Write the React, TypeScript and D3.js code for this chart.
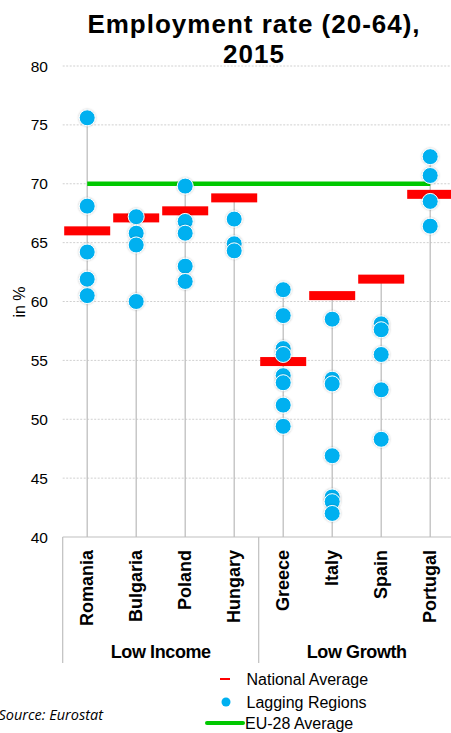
import React from "react";
import * as d3 from "d3";

const countries = ["Romania", "Bulgaria", "Poland", "Hungary", "Greece", "Italy", "Spain", "Portugal"];
const groups = ["Low Income", "Low Growth"];
const nationalAverage = [66.0, 67.1, 67.7, 68.8, 54.9, 60.5, 61.9, 69.1];
const laggingRegions: number[][] = [
  [75.6, 68.1, 64.2, 61.9, 60.5],
  [67.2, 65.8, 64.8, 60.0],
  [69.8, 66.8, 65.8, 63.0, 61.7],
  [67.0, 64.9, 64.3],
  [61.0, 58.8, 56.0, 55.5, 53.7, 53.1, 51.2, 49.4],
  [58.5, 53.4, 53.0, 46.9, 43.4, 43.0, 42.0],
  [58.1, 57.6, 55.5, 52.5, 48.3],
  [72.3, 70.7, 68.5, 66.4],
];
const eu28Average = 70.0;
const yTicks = [40, 45, 50, 55, 60, 65, 70, 75, 80];

const W = 451;
const H = 733;
const FONT = "'Liberation Sans', Arial, sans-serif";

export default function App() {
  const plotLeft = 62.7;
  const step = 49;
  const x = d3.scaleBand<string>().domain(countries).range([plotLeft, plotLeft + step * countries.length]).padding(0);
  const y = d3.scaleLinear().domain([40, 80]).range([537, 66]);
  const cx = (c: string) => (x(c) as number) + x.bandwidth() / 2;
  const groupScale = d3.scaleBand<string>().domain(groups).range([plotLeft, plotLeft + step * countries.length]);
  const axisBottom = 663;
  const barW = 46;
  const barH = 9;

  return (
    <svg width={W} height={H} style={{ position: "absolute", left: 0, top: 0, display: "block" }}>
      <defs>
        <filter id="sh" x="-50%" y="-50%" width="200%" height="200%">
          <feDropShadow dx="0" dy="0" stdDeviation="0.8" floodColor="#000" floodOpacity="0.25" />
        </filter>
      </defs>
      <rect width={W} height={H} fill="#fff" />
      {/* title */}
      <text x={254} y={32.5} textAnchor="middle" fontFamily={FONT} fontWeight="bold" fontSize={26} letterSpacing={1} fill="#000">
        Employment rate (20-64),
      </text>
      <text x={254} y={63} textAnchor="middle" fontFamily={FONT} fontWeight="bold" fontSize={26} letterSpacing={1} fill="#000">
        2015
      </text>
      {/* gridlines */}
      {yTicks.filter((t) => t > 40).map((t) => (
        <line key={t} x1={plotLeft} x2={W} y1={y(t)} y2={y(t)} stroke="#D0D0D0" strokeWidth={1} strokeDasharray="2,1.5" />
      ))}
      {/* y tick labels */}
      {yTicks.map((t) => (
        <text key={t} x={48} y={y(t) + 5.5} textAnchor="end" fontFamily={FONT} fontSize={15.5} fill="#000">
          {t}
        </text>
      ))}
      <text transform={`translate(25,302) rotate(-90)`} textAnchor="middle" fontFamily={FONT} fontSize={16} fill="#000">
        in %
      </text>
      {/* x axis */}
      <line x1={plotLeft} x2={W} y1={y(40)} y2={y(40)} stroke="#BFBFBF" strokeWidth={1.2} />
      {[0, 4].map((i) => (
        <line key={i} x1={plotLeft + i * step} x2={plotLeft + i * step} y1={y(40)} y2={axisBottom} stroke="#BFBFBF" strokeWidth={1.2} />
      ))}
      {/* vertical high-low lines */}
      {countries.map((c, i) => {
        const top = d3.max([...laggingRegions[i], nationalAverage[i]]) as number;
        return <line key={c} x1={cx(c)} x2={cx(c)} y1={y(top)} y2={y(40)} stroke="#BFBFBF" strokeWidth={1.3} />;
      })}
      {/* EU-28 line */}
      <line x1={cx(countries[0])} x2={cx(countries[countries.length - 1])} y1={y(eu28Average)} y2={y(eu28Average)} stroke="#00C800" strokeWidth={4.5} />
      {/* national averages */}
      {countries.map((c, i) => (
        <rect key={c} x={cx(c) - barW / 2} y={y(nationalAverage[i]) - barH / 2} width={barW} height={barH} fill="#FF0000" />
      ))}
      {/* lagging regions */}
      {countries.map((c, i) =>
        laggingRegions[i].map((v, j) => (
          <circle key={c + j} cx={cx(c)} cy={y(v)} r={8} fill="#00B0F0" stroke="#fff" strokeWidth={1} filter="url(#sh)" />
        ))
      )}
      {/* country labels */}
      {countries.map((c) => (
        <text key={c} transform={`translate(${cx(c) + 6},550) rotate(-90)`} textAnchor="end" fontFamily={FONT} fontWeight="bold" fontSize={18} fill="#000">
          {c}
        </text>
      ))}
      {groups.map((g) => (
        <text key={g} x={(groupScale(g) as number) + groupScale.bandwidth() / 2} y={658} textAnchor="middle" fontFamily={FONT} fontWeight="bold" fontSize={18} fill="#000" letterSpacing={-0.4}>
          {g}
        </text>
      ))}
      {/* legend */}
      <line x1={220} x2={230} y1={679} y2={679} stroke="#FF0000" strokeWidth={2} />
      <text x={246.5} y={685} fontFamily={FONT} fontSize={16} fill="#000">National Average</text>
      <circle cx={226} cy={702} r={4.5} fill="#00B0F0" />
      <text x={246.5} y={707.5} fontFamily={FONT} fontSize={16} fill="#000">Lagging Regions</text>
      <line x1={207} x2={243} y1={723} y2={723} stroke="#00C800" strokeWidth={4} strokeLinecap="round" />
      <text x={245} y={728.5} fontFamily={FONT} fontSize={16} fill="#000">EU-28 Average</text>
      <text x={103} y={720} textAnchor="end" fontFamily="'Open Sans', sans-serif" fontStyle="italic" fontSize={14.5} fill="#000">
        Source: Eurostat
      </text>
    </svg>
  );
}
